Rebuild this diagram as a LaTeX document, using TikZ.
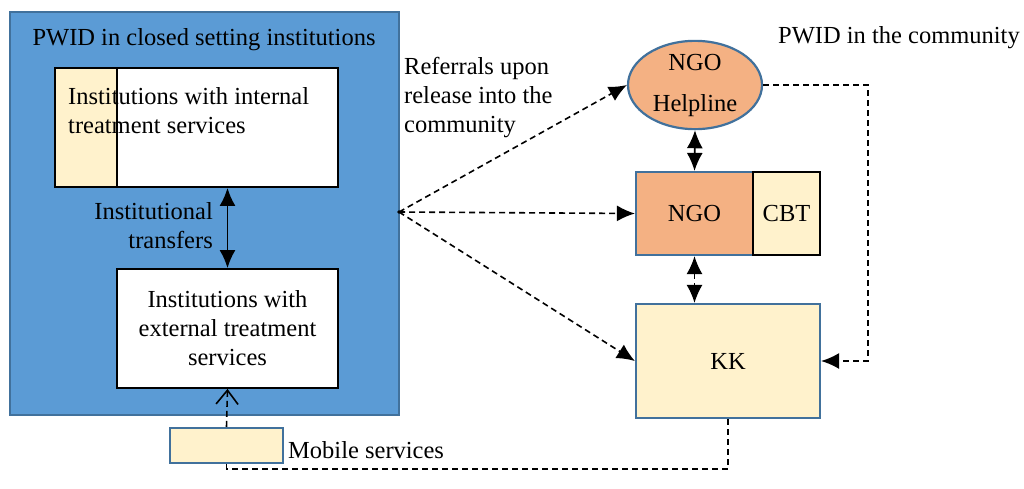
\documentclass[tikz,border=0pt]{standalone}
\usepackage{fontspec}
\setmainfont{Liberation Serif}
\usetikzlibrary{arrows.meta,shapes.geometric}
\definecolor{bluefill}{HTML}{5B9BD5}
\definecolor{blueedge}{HTML}{41719C}
\definecolor{cream}{HTML}{FFF2CC}
\definecolor{orangefill}{HTML}{F4B183}
\tikzset{
  plainbox/.style={draw=black, line width=1.8pt, fill=white, inner sep=0pt},
  bluebox/.style={draw=blueedge, line width=2.2pt, inner sep=0pt},
  dline/.style={line width=1.6pt, dash pattern=on 6pt off 4pt},
  tip/.style={-{Latex[length=18pt,width=16pt]}},
  dtip/.style={{Latex[length=18pt,width=16pt]}-{Latex[length=18pt,width=16pt]}},
  label/.style={inner sep=0pt, text=black}
}
\begin{document}
\begin{tikzpicture}[x=1pt,y=-1pt,font=\fontsize{24.5}{29}\selectfont]
\useasboundingbox[fill=white] (0,0) rectangle (1024,488);

% left container
\node[bluebox, fill=bluefill, minimum width=389pt, minimum height=403pt] (closed) at (204.5,213.5) {};
\node[label] (closedtitle) at (204,40) {PWID in closed setting institutions};

% internal institutions box
\node[plainbox, minimum width=283pt, minimum height=119pt] (intbox) at (196.5,127.5) {};
\node[draw=black, line width=1.8pt, fill=cream, inner sep=0pt, minimum width=62pt, minimum height=119pt] (strip) at (86,127.5) {};
\node[label, anchor=west, align=left] (inttext) at (68,111) {Institutions with internal\\treatment services};

% external institutions box
\node[plainbox, minimum width=221pt, minimum height=119pt, align=center] (extbox) at (227.5,328.5) {Institutions with\\external treatment\\services};

\draw[line width=1.8pt, dtip] (extbox.north |- intbox.south) -- (extbox.north);
\node[label, anchor=east, align=right] (transfers) at (213,226) {Institutional\\transfers};

% mobile services
\node[bluebox, fill=cream, minimum width=113pt, minimum height=35pt] (mobile) at (226.5,445.5) {};
\node[label, anchor=west] (mobiletext) at (288,450) {Mobile services};
\draw[dline, -{Straight Barb[length=14pt,width=22pt,line width=1.6pt]}] (mobile.north) -- (extbox.south);

% right side
\node[label, anchor=west] (community) at (778,38) {PWID in the community};
\node[ellipse, draw=blueedge, line width=2.2pt, fill=orangefill, minimum width=134pt, minimum height=70pt, inner sep=0pt, align=center] (helpline) at (695,85) {NGO\\[12pt]Helpline};
\node[bluebox, fill=orangefill, minimum width=117pt, minimum height=83pt] (ngo) at (694.5,213.5) {NGO};
\node[draw=black, line width=2.4pt, fill=cream, inner sep=0pt, minimum width=67pt, minimum height=83pt] (cbt) at (786.5,213.5) {CBT};
\node[bluebox, fill=cream, minimum width=184pt, minimum height=114pt] (kk) at (728,361) {KK};

\draw[dline, dtip] (helpline.south) -- (ngo.north);
\draw[dline, dtip] (ngo.south) -- (ngo.south |- kk.north);

% referrals
\coordinate (hub) at (399,212);
\fill (hub) circle (1.8pt);
\draw[dline, tip] (hub) -- (helpline.west);
\draw[dline, tip] (hub) -- (ngo.west);
\draw[dline, tip] (hub) -- (kk.west);
\node[label, anchor=north west, align=left] (referrals) at (404,57) {Referrals upon\\release into the\\community};

% helpline to KK
\coordinate (rturn) at (868,361);
\draw[dline, tip] (helpline.east) -| (rturn) -- (kk.east);

% KK to mobile
\draw[dline] (kk.south) -- (kk.south |- 0,469) -| (mobile.south);
\end{tikzpicture}
\end{document}
